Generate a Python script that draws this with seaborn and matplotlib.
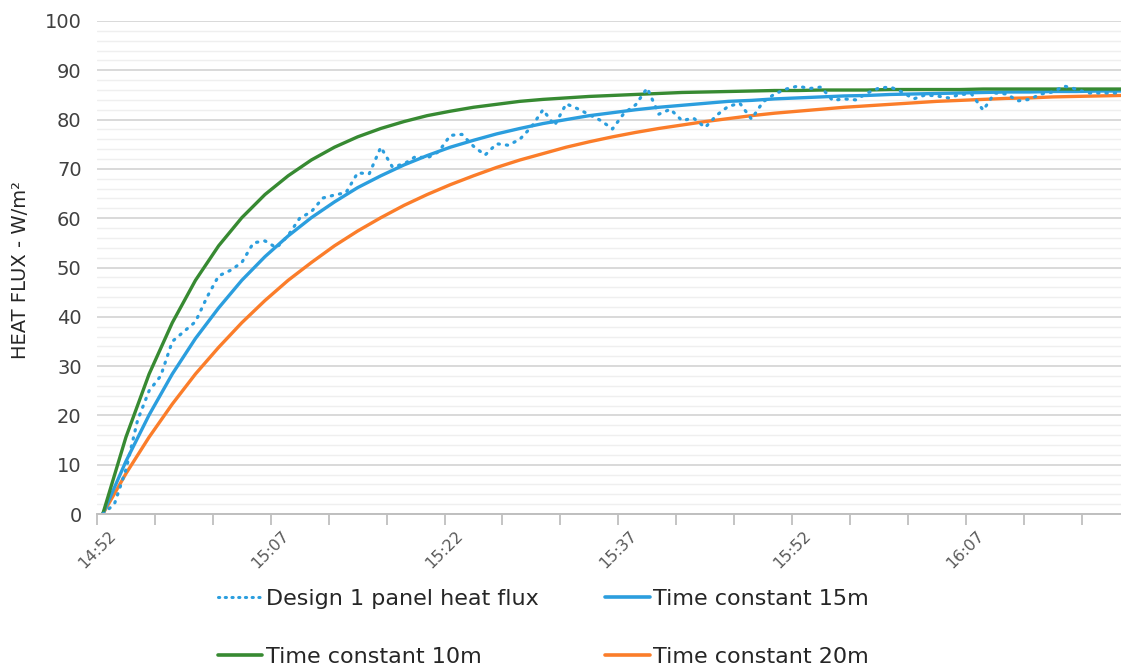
import matplotlib
matplotlib.use("Agg")
import matplotlib.pyplot as plt
import seaborn as sns
import pandas as pd
from matplotlib.ticker import MultipleLocator
from matplotlib.lines import Line2D

# ---------------- data (minutes after 14:52) ----------------
measured_t = [0.5 + k for k in range(89)]
measured_flux = [0, 2, 9, 19, 25, 28, 35, 37, 39, 44,
                 48.3, 49.4, 51, 55, 55.4, 54, 56.5, 60, 61.3, 64.1,
                 64.7, 65.2, 69.2, 69, 74.4, 70.4, 71, 72.5, 72.2, 73.5,
                 76.8, 77, 74.6, 72.8, 75.1, 74.8, 76, 78.5, 82, 78.8,
                 83.2, 82.2, 81, 79.8, 78.1, 81.3, 83, 86.4, 81.1, 82.1,
                 79.8, 80.3, 78.4, 80.9, 82.7, 83.3, 80.1, 83.6, 85.2, 86.2,
                 86.8, 86.3, 86.6, 83.9, 84.2, 84, 85.4, 86.4, 86.6, 85.6,
                 84.2, 85, 84.8, 84.4, 85.1, 85.2, 81.9, 85.4, 85.2, 83.8,
                 84.1, 85.2, 85.6, 86.8, 86.2, 85.4, 85.4, 85.4, 85.4]

model_t = [0.5 + 2 * k for k in range(45)]
tc10 = [0, 15.6, 28.4, 38.8, 47.4, 54.4, 60.1, 64.8, 68.6, 71.8,
        74.4, 76.5, 78.2, 79.6, 80.8, 81.7, 82.5, 83.1, 83.7, 84.1,
        84.4, 84.7, 84.9, 85.1, 85.3, 85.5, 85.6, 85.7, 85.8, 85.9,
        85.9, 86.0, 86.0, 86.0, 86.1, 86.1, 86.1, 86.1, 86.2, 86.2,
        86.2, 86.2, 86.2, 86.2, 86.2]
tc15 = [0, 10.7, 20.1, 28.4, 35.6, 41.8, 47.4, 52.2, 56.4, 60.1,
        63.3, 66.2, 68.6, 70.8, 72.7, 74.4, 75.8, 77.1, 78.2, 79.2,
        80.0, 80.8, 81.4, 82.0, 82.5, 82.9, 83.3, 83.7, 83.9, 84.2,
        84.4, 84.6, 84.8, 84.9, 85.1, 85.2, 85.3, 85.4, 85.5, 85.6,
        85.6, 85.7, 85.7, 85.8, 85.8]
tc20 = [0, 8.2, 15.6, 22.3, 28.4, 33.8, 38.8, 43.3, 47.4, 51.0,
        54.4, 57.4, 60.1, 62.6, 64.8, 66.8, 68.6, 70.3, 71.8, 73.1,
        74.4, 75.5, 76.5, 77.4, 78.2, 78.9, 79.6, 80.2, 80.8, 81.3,
        81.7, 82.1, 82.5, 82.8, 83.1, 83.4, 83.7, 83.9, 84.1, 84.3,
        84.4, 84.6, 84.7, 84.8, 84.9]

tick_minutes = [0, 15, 30, 45, 60, 75]
tick_labels = ["14:52", "15:07", "15:22", "15:37", "15:52", "16:07"]

labels = ["Design 1 panel heat flux", "Time constant 10m",
          "Time constant 15m", "Time constant 20m"]
c_blue, c_green, c_orange = "#2b9ede", "#378a32", "#fb7d2a"

# ---------------- plot ----------------
sns.set_style("white")
plt.rcParams["font.family"] = ["DejaVu Sans"]

fig = plt.figure(figsize=(11.21, 6.66), dpi=100)
ax = fig.add_axes([97 / 1121, 1 - 514 / 666, 1 - 97 / 1121, (514 - 21) / 666])

df_m = pd.DataFrame({"t": measured_t, "v": measured_flux})
df_c = pd.DataFrame({"t": model_t, "g": tc10, "b": tc15, "o": tc20})

sns.lineplot(data=df_c, x="t", y="o", ax=ax, color=c_orange, lw=2.4)
sns.lineplot(data=df_c, x="t", y="b", ax=ax, color=c_blue, lw=2.4)
sns.lineplot(data=df_c, x="t", y="g", ax=ax, color=c_green, lw=2.4)
sns.lineplot(data=df_m, x="t", y="v", ax=ax, color=c_blue, lw=2.3,
             linestyle=(0, (0.4, 2.2)), dash_capstyle="round")

ax.set_xlim(0, 88.4)
ax.set_ylim(0, 100)
ax.set_xlabel("")
ax.set_ylabel("HEAT FLUX - W/m²", fontsize=14, color="#262626")
ax.yaxis.set_label_coords(-0.065, 0.495)

ax.yaxis.set_major_locator(MultipleLocator(10))
ax.yaxis.set_minor_locator(MultipleLocator(2))
ax.grid(axis="y", which="major", color="#d9d9d9", lw=1.4)
ax.grid(axis="y", which="minor", color="#efefef", lw=1.0)
ax.grid(axis="x", visible=False)
ax.set_axisbelow(True)

major_x = list(range(0, 90, 5))
ax.set_xticks(major_x)
ax.set_xticklabels([tick_labels[tick_minutes.index(m)] if m in tick_minutes else ""
                    for m in major_x])
ax.tick_params(axis="x", which="major", direction="out", length=8, width=1.3,
               color="#bfbfbf", labelsize=11.5, labelcolor="#595959",
               labelrotation=45, pad=2, bottom=True)
for lab in ax.get_xticklabels():
    lab.set_ha("center")
ax.tick_params(axis="y", which="both", length=0, labelsize=14,
               labelcolor="#404040", pad=11)

for s in ["left", "right", "top"]:
    ax.spines[s].set_visible(False)
ax.spines["bottom"].set_color("#bfbfbf")
ax.spines["bottom"].set_linewidth(1.4)

handles = [
    Line2D([], [], color=c_blue, lw=2.2, linestyle=(0, (0.4, 1.8)), dash_capstyle="round"),
    Line2D([], [], color=c_green, lw=2.6),
    Line2D([], [], color=c_blue, lw=2.6),
    Line2D([], [], color=c_orange, lw=2.6),
]
fig.legend(handles, labels, ncol=2, loc="upper left",
           bbox_to_anchor=(218 / 1121, 1 - 589 / 666), frameon=False,
           fontsize=16, handlelength=2.0, handletextpad=0.15,
           columnspacing=3.0, labelspacing=1.72, borderpad=0,
           borderaxespad=0, labelcolor="#262626")

fig.savefig("out.png", dpi=100)
